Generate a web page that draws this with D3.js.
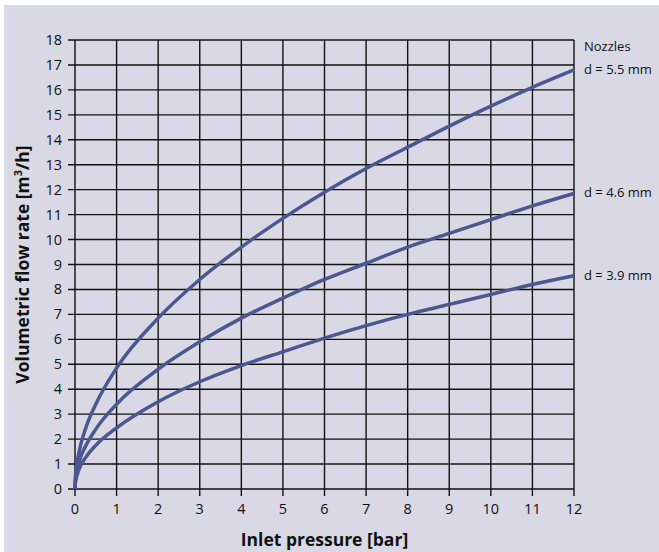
<!DOCTYPE html>
<html>
<head>
<meta charset="utf-8">
<script src="https://cdn.jsdelivr.net/npm/d3@7"></script>
<style>
body { margin: 0; background: #fff; }
svg { display: block; font-family: "Open Sans", "DejaVu Sans", sans-serif; }
</style>
</head>
<body>
<div id="chart"></div>
<script>
// inlet pressure [bar] sample points
var pressure = [0, 0.01, 0.1, 0.25, 0.5, 1, 2, 3, 4, 5, 6, 7, 8, 9, 10, 11, 12];
// flow rate [m3/h], one array per nozzle
var flow55 = [0, 0.5, 1.5, 2.4, 3.4, 4.85, 6.85, 8.4, 9.7, 10.85, 11.9, 12.85, 13.7, 14.55, 15.35, 16.1, 16.8];
var flow46 = [0, 0.35, 1.1, 1.7, 2.4, 3.4, 4.8, 5.9, 6.85, 7.65, 8.4, 9.05, 9.7, 10.25, 10.8, 11.35, 11.85];
var flow39 = [0, 0.25, 0.8, 1.25, 1.75, 2.45, 3.5, 4.3, 4.95, 5.5, 6.05, 6.55, 7.0, 7.4, 7.8, 8.2, 8.55];
var nozzleLabels = ["d = 5.5 mm", "d = 4.6 mm", "d = 3.9 mm"];
var xTicks = d3.range(0, 13);
var yTicks = d3.range(0, 19);

var config = {
	width: 659,
	height: 552,
	left: 75,
	right: 574,
	top: 40,
	bottom: 489,
	bgColor: "#d9d9e5",
	gridColor: "#111",
	curveColor: "#4b5791",
	fontSize: 14.5
};

var svg = d3.select("#chart").append("svg")
	.attr("width", config.width)
	.attr("height", config.height);

svg.append("rect")
	.attr("x", 4).attr("y", 5)
	.attr("width", config.width - 4)
	.attr("height", config.height - 5)
	.attr("fill", config.bgColor);

var x = d3.scaleLinear().domain([0, 12]).range([config.left, config.right]);
var y = d3.scaleLinear().domain([0, 18]).range([config.bottom, config.top]);

// grid
var grid = svg.append("g").attr("class", "grid");
grid.selectAll(".vline")
	.data(xTicks)
	.enter()
	.append("line")
	.attr("class", "vline")
	.attr("x1", function(d) { return x(d); })
	.attr("x2", function(d) { return x(d); })
	.attr("y1", config.top)
	.attr("y2", config.bottom + 7)
	.attr("stroke", config.gridColor)
	.attr("stroke-width", 1.4);
grid.selectAll(".hline")
	.data(yTicks)
	.enter()
	.append("line")
	.attr("class", "hline")
	.attr("x1", config.left - 7)
	.attr("x2", config.right)
	.attr("y1", function(d) { return y(d); })
	.attr("y2", function(d) { return y(d); })
	.attr("stroke", config.gridColor)
	.attr("stroke-width", 1.4);

// tick labels
svg.append("g").selectAll("text")
	.data(xTicks)
	.enter()
	.append("text")
	.attr("x", function(d) { return x(d); })
	.attr("y", config.bottom + 25)
	.attr("text-anchor", "middle")
	.attr("font-size", config.fontSize)
	.attr("fill", "#111")
	.text(function(d) { return d; });
svg.append("g").selectAll("text")
	.data(yTicks)
	.enter()
	.append("text")
	.attr("x", config.left - 13)
	.attr("y", function(d) { return y(d) + 5; })
	.attr("text-anchor", "end")
	.attr("font-size", config.fontSize)
	.attr("fill", "#111")
	.text(function(d) { return d; });

// curves
var series = [flow55, flow46, flow39];
var line = d3.line()
	.x(function(d, i) { return x(pressure[i]); })
	.y(function(d) { return y(d); })
	.curve(d3.curveMonotoneX);
svg.append("g").selectAll("path")
	.data(series)
	.enter()
	.append("path")
	.attr("d", line)
	.attr("fill", "none")
	.attr("stroke", config.curveColor)
	.attr("stroke-width", 3.5)
	.attr("stroke-linecap", "butt");

// curve labels
svg.append("text")
	.attr("x", config.right + 10)
	.attr("y", 51)
	.attr("font-size", 13)
	.attr("fill", "#111")
	.text("Nozzles");
svg.append("g").selectAll("text")
	.data(series)
	.enter()
	.append("text")
	.attr("x", config.right + 10)
	.attr("y", function(d) { return y(d[d.length - 1]) + 4; })
	.attr("font-size", 13)
	.attr("fill", "#111")
	.text(function(d, i) { return nozzleLabels[i]; });

// axis titles
svg.append("text")
	.attr("x", (config.left + config.right) / 2)
	.attr("y", 546)
	.attr("text-anchor", "middle")
	.attr("font-size", 17.5)
	.attr("font-weight", "bold")
	.attr("fill", "#111")
	.text("Inlet pressure [bar]");

var yTitle = svg.append("text")
	.attr("transform", "translate(29," + ((config.top + config.bottom) / 2) + ") rotate(-90)")
	.attr("text-anchor", "middle")
	.attr("font-size", 17.5)
	.attr("font-weight", "bold")
	.attr("fill", "#111");
yTitle.append("tspan").text("Volumetric flow rate [m");
yTitle.append("tspan").attr("font-size", 11).attr("dy", -7).text("3");
yTitle.append("tspan").attr("dy", 7).text("/h]");
</script>
</body>
</html>
